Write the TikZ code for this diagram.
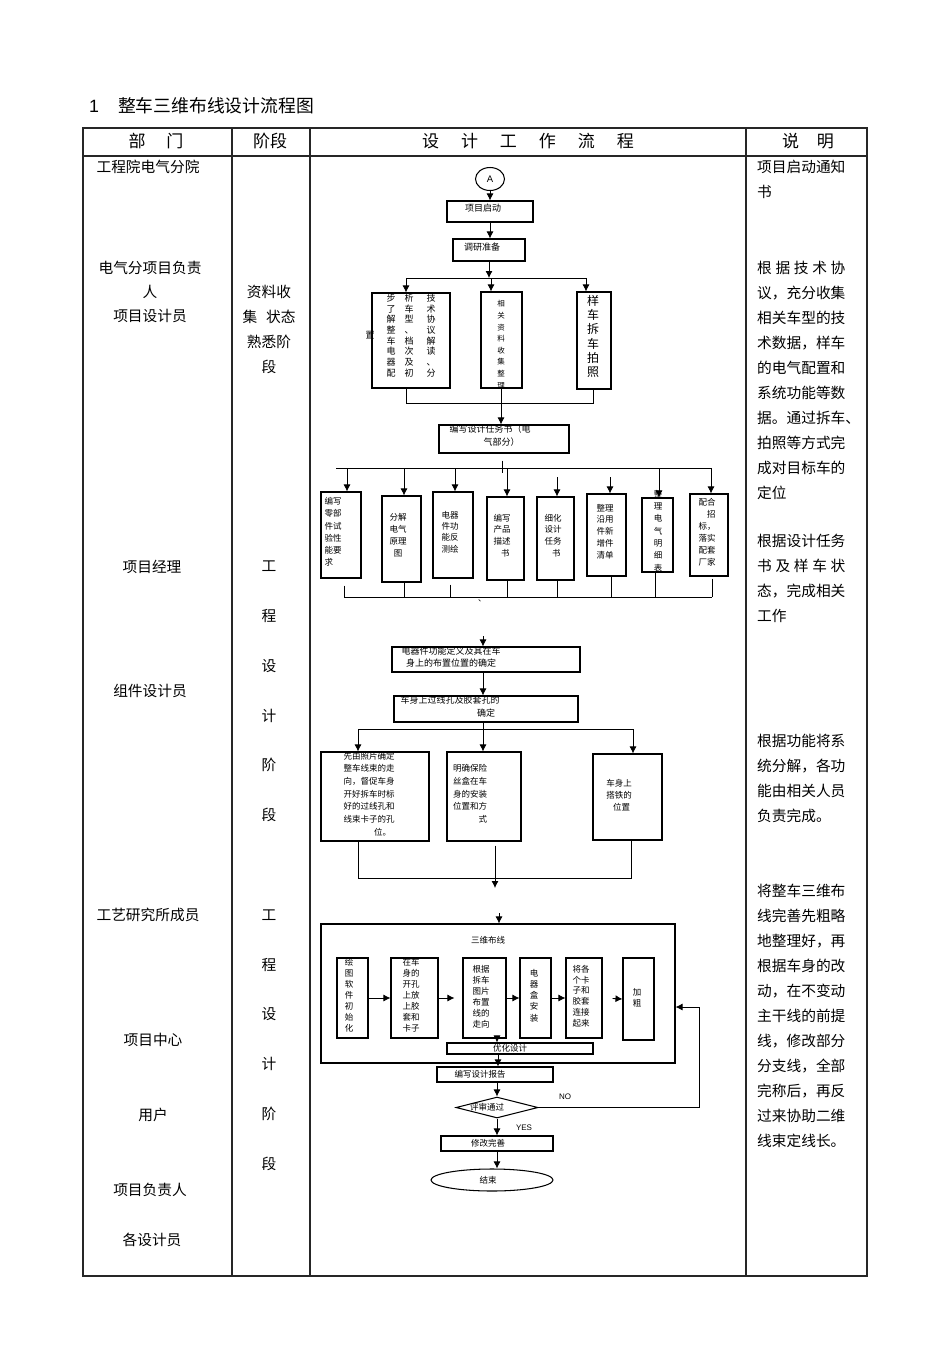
\documentclass[tikz,border=0pt]{standalone}
\usepackage{fontspec}
\setmainfont{Noto Sans CJK SC}
\newfontfamily\latinsf{Liberation Sans}
\usetikzlibrary{arrows.meta,shapes.geometric}

% box given by its corners: name, x1, y1, x2, y2
\newcommand{\flowbox}[5]{\node[box,minimum width={#4-#2},minimum height={#5-#3}] (#1) at ({(#2+#4)/2},{(#3+#5)/2}) {};}

\tikzset{
  box/.style={draw,line width=1.05pt,inner sep=0pt},
  ln/.style={line width=0.85pt},
  flow/.style={-{Latex[length=7pt,width=7pt]},line width=0.85pt},
  tbl/.style={line width=1.1pt,draw=black!85},
  txt/.style 2 args={font=\fontsize{#1}{#2}\selectfont,inner sep=0pt,align=center},
  col/.style={txt={14.7}{25}},
  note/.style={font=\fontsize{14.7}{25}\selectfont,inner sep=0pt,align=left,anchor=north west},
  head/.style={font=\fontsize{17}{17}\selectfont,inner sep=0pt},
}

\begin{document}
\begin{tikzpicture}[x=1pt,y=-1pt]
\useasboundingbox (0,0) rectangle (950,1345);

% title and table
\node[font=\fontsize{17.8}{18}\selectfont,inner sep=0pt,anchor=west] (title) at (89,106) {{\latinsf 1}\hspace{19pt}整车三维布线设计流程图};
\draw[tbl] (83,128) rectangle (867,1276);
\draw[tbl] (83,156) -- (867,156);
\foreach \x in {232,310,746} \draw[tbl] (\x,128) -- (\x,1276);
\node[head] (h1) at (156,141) {部\hspace{21pt}门};
\node[head] (h2) at (270,141) {阶段};
\node[head] (h3) at (528,141) {设\hspace{22pt}计\hspace{22pt}工\hspace{22pt}作\hspace{22pt}流\hspace{22pt}程};
\node[head] (h4) at (808,141) {说\hspace{18pt}明};

% department column
\node[col] (p1) at (148,167) {工程院电气分院};
\node[txt={14.7}{24}] (p2) at (150,292) {电气分项目负责\\人\\项目设计员};
\node[col] (p3) at (152,567) {项目经理};
\node[col] (p4) at (150,691) {组件设计员};
\node[col] (p5) at (148,915) {工艺研究所成员};
\node[col] (p6) at (153,1040) {项目中心};
\node[col] (p7) at (153,1115) {用户};
\node[col] (p8) at (150,1190) {项目负责人};
\node[col] (p9) at (152,1240) {各设计员};

% stage column
\node[col] (st1) at (269,329.5) {资料收\\集\hspace{0.6em}状态\\熟悉阶\\段};
\node[txt={14.7}{49.8}] (st2) at (269,691.5) {工\\程\\设\\计\\阶\\段};
\node[txt={14.7}{49.8}] (st3) at (269,1040) {工\\程\\设\\计\\阶\\段};

% remarks column
\node[note] (n1) at (757,160) {项目启动通知\\书};
\node[note] (n2) at (757,261) {\makebox[6em]{根\hfill 据\hfill 技\hfill 术\hfill 协}\\议，充分收集\\相关车型的技\\术数据，样车\\的电气配置和\\系统功能等数\\据。通过拆车、\\拍照等方式完\\成对目标车的\\定位};
\node[note] (n3) at (757,534) {根据设计任务\\\makebox[6em]{书\hfill 及\hfill 样\hfill 车\hfill 状}\\态，完成相关\\工作};
\node[note] (n4) at (757,734) {根据功能将系\\统分解，各功\\能由相关人员\\负责完成。};
\node[note] (n5) at (757,884) {将整车三维布\\线完善先粗略\\地整理好，再\\根据车身的改\\动，在不变动\\主干线的前提\\线，修改部分\\分支线，全部\\完称后，再反\\过来协助二维\\线束定线长。};

% ---- flow: start
\node[box,ellipse,minimum width=29,minimum height=23] (A) at (490,179) {\latinsf\fontsize{9.5}{9.5}\selectfont A};
\flowbox{start}{447}{201}{533}{222}
\node[txt={9}{11}] (startt) at (483,208.5) {项目启动};
\flowbox{survey}{453}{239}{525}{261}
\node[txt={9}{11}] (surveyt) at (482,247) {调研准备};
\draw[flow] (A) -- (start);
\draw[flow] (start.south) -- (start.south |- survey.north);
\draw[flow] (survey.south) -- (survey.south |- 0,278);
\draw[ln] (406,278) -- (586,278);

\flowbox{s1}{372}{293}{450}{388}
\flowbox{s2}{481}{292}{522}{388}
\flowbox{s3}{577}{292}{611}{389}
\foreach \x/\b in {406/s1,491/s2,586/s3} \draw[flow] (\x,278) -- (\x,0 |- \b.north);
\node[txt={9}{10.7}] (s1a) at (431,335.5) {技\\术\\协\\议\\解\\读\\、\\分};
\node[txt={9}{10.7}] (s1b) at (409,335.5) {析\\车\\型\\、\\档\\次\\及\\初};
\node[txt={9}{10.7}] (s1c) at (391,335.5) {步\\了\\解\\整\\车\\电\\器\\配};
\node[txt={9}{10.7}] (s1d) at (370,335) {置};
\node[txt={7.5}{11.6}] (s2t) at (501,344.5) {相\\关\\资\\料\\收\\集\\整\\理};
\node[txt={12}{14.3}] (s3t) at (593,336.5) {样\\车\\拆\\车\\拍\\照};

\flowbox{task}{439}{425}{569}{453}
\node[txt={9}{13},align=left] (taskt) at (490,435.5) {编写设计任务书（电\\\hspace*{3.8em}气部分）};
\draw[ln] (406,0 |- s1.south) -- (406,403) -- (593,403) -- (593,0 |- s3.south);
\draw[ln] (501,0 |- s2.south) -- (501,403);
\draw[flow] (501,403) -- (501,0 |- task.north);
\draw[ln] (task.south) ++(-2,7) -- ++(0,12);

% ---- eight work boxes
\draw[ln] (336,468) -- (711,468);
\flowbox{d1}{321}{492}{361}{578}
\flowbox{d2}{382}{496}{421}{582}
\flowbox{d3}{433}{492}{473}{578}
\flowbox{d4}{487}{497}{524}{580}
\flowbox{d5}{537}{497}{574}{580}
\flowbox{d6}{587}{494}{626}{576}
\flowbox{d7}{642}{498}{673}{572}
\flowbox{d8}{690}{494}{728}{576}
\foreach \x/\b in {347/d1,404/d2,455/d3,507/d4,659/d7,711/d8} \draw[flow] (\x,468) -- (\x,0 |- \b.north);
\foreach \x/\b in {557/d5,610/d6} \draw[flow] (\x,477) -- (\x,0 |- \b.north);
\node[txt={8.5}{12.2},align=left] (d1t) at (333,532) {编写\\零部\\件试\\验性\\能要\\求};
\node[txt={8.5}{12}] (d2t) at (398,535) {分解\\电气\\原理\\图};
\node[txt={8.5}{11.3}] (d3t) at (450,532) {电器\\件功\\能反\\测绘};
\node[txt={8.5}{11.7}] (d4t) at (502,535.5) {编写\\产品\\描述\\\hspace*{0.8em}书};
\node[txt={8.5}{11.7}] (d5t) at (553,535.5) {细化\\设计\\任务\\\hspace*{0.8em}书};
\node[txt={8.5}{11.75}] (d6t) at (605,531.5) {整理\\沿用\\件新\\增件\\清单};
\node[txt={8.5}{12.3}] (d7t) at (658,531) {整\\理\\电\\气\\明\\细\\表};
\node[txt={8.5}{12},align=left] (d8t) at (707,532) {配合\\\hphantom{配}招\\标，\\落实\\配套\\厂家};
\foreach \x/\b/\s in {344/d1/7,404/d2/0,450/d3/6,507/d4/0,557/d5/0,611/d6/0,655/d7/0,712/d8/2}
  \draw[ln,shorten <=\s pt] (\x,0 |- \b.south) -- (\x,597);
\draw[ln] (344,597) -- (712,597);
\node[txt={8}{8}] (tick) at (482,601) {、};

% ---- function definition
\coordinate (c1) at (483,636);
\flowbox{def}{392}{647}{580}{672}
\node[txt={9}{12}] (deft) at (451,657) {电器件功能定义及其在车\\身上的布置位置的确定};
\flowbox{hole}{394}{696}{578}{722}
\node[txt={9}{13},align=left] (holet) at (450,706.5) {车身上过线孔及胶套孔的\\\hspace*{8.5em}确定};
\draw[flow] (c1) -- (c1 |- def.north);
\draw[flow] (483,0 |- def.south) -- (483,0 |- hole.north);

\flowbox{e1}{321}{752}{429}{841}
\flowbox{e2}{447}{752}{521}{841}
\flowbox{e3}{593}{754}{662}{840}
\draw[flow] (483,0 |- hole.south) -- (483,0 |- e2.north);
\draw[ln] (358,729) -- (633,729);
\foreach \x/\b in {358/e1,633/e3} \draw[flow] (\x,729) -- (\x,0 |- \b.north);
\node[txt={8.5}{12.7},align=left] (e1t) at (369,794) {先由照片确定\\整车线束的走\\向，督促车身\\开好拆车时标\\好的过线孔和\\线束卡子的孔\\\hspace*{3.6em}位。};
\node[txt={8.5}{12.7},align=left] (e2t) at (470,794) {明确保险\\丝盒在车\\身的安装\\位置和方\\\hspace*{3em}式};
\node[txt={8.5}{12},align=left] (e3t) at (619,795) {车身上\\搭铁的\\\hspace*{0.8em}位置};
\draw[ln] (358,0 |- e1.south) -- (358,878) -- (631,878) -- (631,0 |- e3.south);
\coordinate (c2) at (495,888);
\draw[flow,shorten <=4pt] (c2 |- e2.south) -- (c2);

% ---- 3D routing
\coordinate (c3) at (499,913);
\flowbox{frame}{321}{924}{675}{1063}
\draw[flow] (c3) -- (c3 |- frame.north);
\node[txt={8.5}{10}] (framet) at (488,940) {三维布线};
\flowbox{r1}{337}{958}{368}{1038}
\flowbox{r2}{391}{958}{438}{1038}
\flowbox{r3}{463}{958}{506}{1038}
\flowbox{r4}{520}{958}{551}{1038}
\flowbox{r5}{566}{958}{602}{1038}
\flowbox{r6}{623}{958}{654}{1040}
\node[txt={8.5}{11}] (r1t) at (349,995) {绘\\图\\软\\件\\初\\始\\化};
\node[txt={8.5}{11}] (r2t) at (411,995) {在车\\身的\\开孔\\上放\\上胶\\套和\\卡子};
\node[txt={8.5}{11}] (r3t) at (481,996.5) {根据\\拆车\\图片\\布置\\线的\\走向};
\node[txt={8.5}{11.25}] (r4t) at (534,995.5) {电\\器\\盒\\安\\装};
\node[txt={8.5}{10.8}] (r5t) at (581,996) {将各\\个卡\\子和\\胶套\\连接\\起来};
\node[txt={8.5}{11}] (r6t) at (637,997.5) {加\\粗};
\draw[flow] (r1.east) -- (r2.west);
\draw[flow,shorten >=8pt] (r2.east) -- (r3.west);
\draw[flow] (r3.east) -- (r4.west);
\draw[flow] (r4.east) -- (r5.west);
\draw[flow,shorten <=10pt] (r5.east) -- (r6.west);

\flowbox{opt}{447}{1043}{593}{1054}
\node[txt={8.5}{10}] (optt) at (510,1048.5) {优化设计};
\draw[flow] (497,0 |- r3.south) -- (497,0 |- opt.north);
\flowbox{rpt}{437}{1067}{553}{1082}
\node[txt={8.5}{10}] (rptt) at (480,1074.5) {编写设计报告};
\draw[flow] (498,0 |- opt.south) -- (498,0 |- rpt.north);

% ---- review
\node[box,diamond,aspect=3.9,minimum width=82,minimum height=21] (rev) at (497,1107.5) {};
\node[txt={8.5}{10}] (revt) at (487,1107.5) {评审通过};
\draw[flow] (497,0 |- rpt.south) -- (rev.north);
\draw[flow] (rev.east) -- (699,0 |- rev.east) -- (699,1007) -- (frame.east |- 0,1007);
\node[inner sep=0pt,font=\latinsf\fontsize{8}{8}\selectfont] (no) at (565,1097) {NO};
\node[inner sep=0pt,font=\latinsf\fontsize{8}{8}\selectfont] (yes) at (524,1128) {YES};
\flowbox{fix}{441}{1136}{553}{1151}
\node[txt={8.5}{10}] (fixt) at (488,1143.5) {修改完善};
\draw[flow] (rev.south) -- (rev.south |- fix.north);
\node[box,ellipse,minimum width=122,minimum height=22] (fin) at (492,1180) {};
\node[txt={8.5}{10}] (fint) at (488,1180) {结束};
\draw[flow] (497,0 |- fix.south) -- (497,0 |- fin.north);
\end{tikzpicture}
\end{document}
